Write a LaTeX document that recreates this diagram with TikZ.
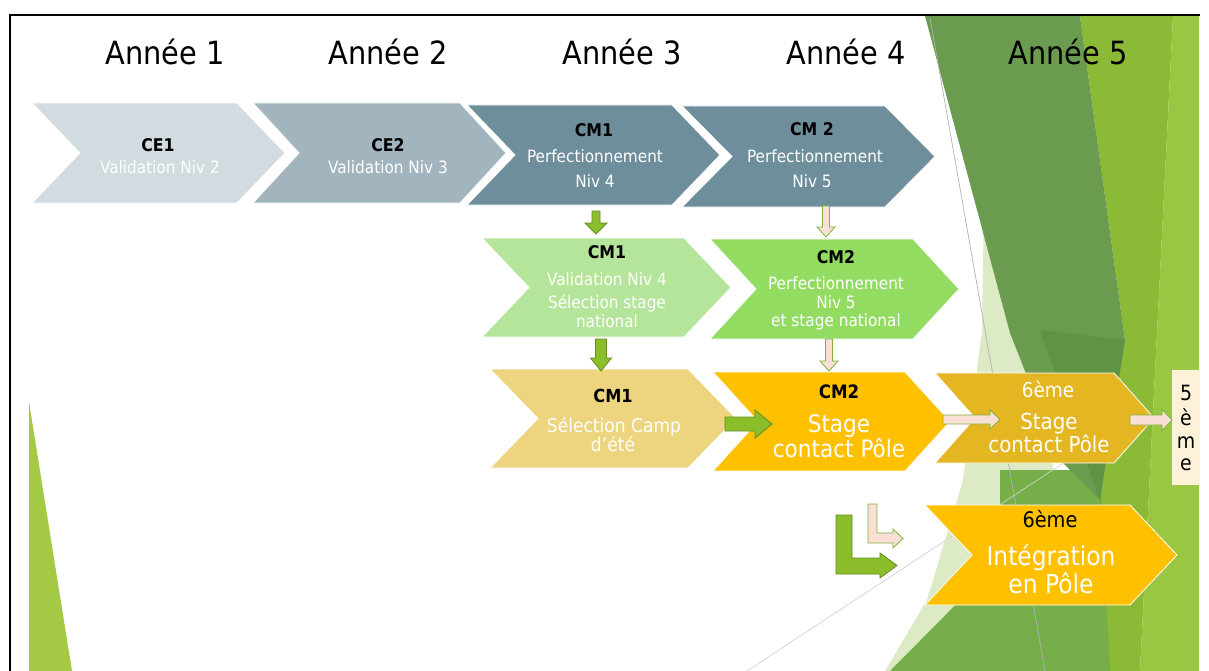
\documentclass[tikz,border=0pt]{standalone}
\usepackage{fontspec}
\setmainfont{DejaVuSansCondensed}[Extension=.ttf,BoldFont=DejaVuSansCondensed-Bold]
\definecolor{ceone}{HTML}{D1DBE0}
\definecolor{cetwo}{HTML}{A2B5BF}
\definecolor{slate}{HTML}{6F8E9C}
\definecolor{lgreen}{HTML}{B5E59A}
\definecolor{mgreen}{HTML}{93DC62}
\definecolor{tan}{HTML}{EDD47F}
\definecolor{gold}{HTML}{FFC000}
\definecolor{dgold}{HTML}{E4B621}
\definecolor{arrgreen}{HTML}{8CBE2C}
\definecolor{arrgreendark}{HTML}{5F8F22}
\definecolor{arrpink}{HTML}{FADFD4}
\definecolor{arrpinkedge}{HTML}{80B23C}
\definecolor{cream}{HTML}{FDF1D8}
\definecolor{leftgreen}{HTML}{A3C945}
\definecolor{bgpale}{HTML}{DCEAC5}
\definecolor{bgmed}{HTML}{76AE49}
\definecolor{bgdark}{HTML}{6A9B4F}
\definecolor{bgdarker}{HTML}{5F9444}
\definecolor{bgyg}{HTML}{8BBA36}
\definecolor{bglight}{HTML}{99C742}
\tikzset{
 hdr/.style={font=\fontsize{32}{36}\selectfont,anchor=base,inner sep=0pt},
 ttl/.style={font=\bfseries\fontsize{17.5}{20}\selectfont,anchor=base,inner sep=0pt},
 bod/.style={font=\fontsize{17}{20}\selectfont,text=white,anchor=base,inner sep=0pt},
 ltr/.style={font=\fontsize{21}{22}\selectfont,anchor=base,inner sep=0pt},
 chev/.style={draw=white,line width=0.8pt},
 garr/.style={fill=arrgreen,draw=arrgreendark,line width=0.8pt},
 parr/.style={fill=arrpink,draw=arrpinkedge,line width=0.8pt},
}
\newcommand\chevbox[6]{\path[chev,fill=#6] (#1,#3) -- (#2,#3) -- ({#2+#5},{(#3+#4)/2}) -- (#2,#4) -- (#1,#4) -- ({#1+#5},{(#3+#4)/2}) -- cycle;}
\newcommand\dnarrow[7]{\path[#1] ({#2-#5},#3) -- ({#2+#5},#3) -- ({#2+#5},{#4-#7}) -- ({#2+#6},{#4-#7}) -- (#2,#4) -- ({#2-#6},{#4-#7}) -- ({#2-#5},{#4-#7}) -- cycle;}
\newcommand\rtarrow[7]{\path[#1] (#2,{#4-#5}) -- ({#3-#7},{#4-#5}) -- ({#3-#7},{#4-#6}) -- (#3,#4) -- ({#3-#7},{#4+#6}) -- ({#3-#7},{#4+#5}) -- (#2,{#4+#5}) -- cycle;}
\begin{document}
\begin{tikzpicture}[x=1pt,y=-1pt]
\useasboundingbox (0,0) rectangle (1209,671);
\fill[white] (0,0) rectangle (1209,671);
% background
\fill[bgpale] (985,140) -- (1060,500) -- (905,671) -- (885,671) -- (927,600) -- (963,480) -- (982,330) -- cycle;
\fill[bgyg] (1080,16) -- (1173,16) -- (1140,671) -- (1105,671) -- (1100,500) -- (1125,340) -- cycle;
\fill[bglight] (1173,16) -- (1199,16) -- (1199,671) -- (1140,671) -- cycle;
\fill[bgmed] (1000,470) -- (1100,470) -- (1110,671) -- (890,671) -- (1000,560) -- cycle;
\fill[bgdark] (925,16) -- (1080,16) -- (1125,340) -- (1100,500) -- (1060,460) -- (1010,333) -- cycle;
\fill[bgdarker] (1040,330) -- (1125,340) -- (1100,500) -- cycle;
\fill[leftgreen] (29,402) -- (72,671) -- (29,671) -- cycle;
\draw[gray!60,line width=0.7pt] (930,18) -- (1045,671);
\draw[gray!35,line width=0.7pt] (747,671) -- (1080,452);
% border
\draw[line width=2pt] (10,671) -- (10,15) -- (1200,15);
% headers
\node[hdr] (a1) at (165,65) {Année 1};
\node[hdr] (a2) at (388,65) {Année 2};
\node[hdr] (a3) at (622,65) {Année 3};
\node[hdr] (a4) at (846,65) {Année 4};
\node[hdr] (a5) at (1068,65) {Année 5};
% row 1
\chevbox{32}{237}{103}{203}{48}{ceone}
\chevbox{253}{460}{103}{203}{46}{cetwo}
\chevbox{467}{672}{105}{205}{48}{slate}
\chevbox{682}{885}{106}{207}{50}{slate}
\node[ttl] (ce1t) at (158,152) {CE1};
\node[bod] (ce1a) at (160,174) {Validation Niv 2};
\node[ttl] (ce2t) at (388,152) {CE2};
\node[bod] (ce2a) at (388,174) {Validation Niv 3};
\node[ttl] (cm1t) at (594,137) {CM1};
\node[bod] (cm1a) at (595,163) {Perfectionnement};
\node[bod] (cm1b) at (595,188) {Niv 4};
\node[ttl] (cm2t) at (812,136) {CM 2};
\node[bod] (cm2a) at (815,163) {Perfectionnement};
\node[bod] (cm2b) at (812,188) {Niv 5};
% row 2
\chevbox{482}{684}{238}{337}{47}{lgreen}
\chevbox{710}{913}{239}{339}{46}{mgreen}
\node[ttl] (r2at) at (607,258) {CM1};
\node[bod] (r2a1) at (607,285) {Validation Niv 4};
\node[bod] (r2a2) at (607,308) {Sélection stage};
\node[bod] (r2a3) at (607,327) {national};
\node[ttl] (r2bt) at (836,263) {CM2};
\node[bod] (r2b1) at (836,289) {Perfectionnement};
\node[bod] (r2b2) at (836,308) {Niv 5};
\node[bod] (r2b3) at (836,326) {et stage national};
% row 3
\chevbox{490}{688}{369}{468}{48}{tan}
\chevbox{713}{905}{372}{471}{45}{gold}
\chevbox{935}{1114}{373}{463}{40}{dgold}
\node[ttl,font=\bfseries\fontsize{18}{20}\selectfont] (r3at) at (613,402) {CM1};
\node[bod,font=\fontsize{19}{22}\selectfont] (r3a1) at (614,432) {Sélection Camp};
\node[bod,font=\fontsize{19}{22}\selectfont] (r3a2) at (613,451) {d’été};
\node[ttl,font=\bfseries\fontsize{18.5}{20}\selectfont] (r3bt) at (839,398) {CM2};
\node[bod,font=\fontsize{24}{26}\selectfont] (r3b1) at (839,432) {Stage};
\node[bod,font=\fontsize{24}{26}\selectfont] (r3b2) at (839,457) {contact Pôle};
\node[bod,font=\fontsize{20.5}{24}\selectfont] (r3c0) at (1048,397) {6ème};
\node[bod,font=\fontsize{22}{24}\selectfont] (r3c1) at (1049,429) {Stage};
\node[bod,font=\fontsize{22}{24}\selectfont] (r3c2) at (1049,452) {contact Pôle};
% row 4
\chevbox{925}{1130}{505}{605}{47}{gold}
\node[anchor=base,inner sep=0pt,font=\fontsize{21.5}{24}\selectfont] (r4t) at (1050,527) {6ème};
\node[bod,font=\fontsize{26}{30}\selectfont] (r4a) at (1051,565) {Intégration};
\node[bod,font=\fontsize{26}{30}\selectfont] (r4b) at (1051,593) {en Pôle};
% 5eme box
\fill[cream] (1172,370) rectangle (1200,485);
\node[ltr] (c1) at (1186,400) {5};
\node[ltr] (c2) at (1186,425) {è};
\node[ltr] (c3) at (1186,448) {m};
\node[ltr] (c4) at (1186,470) {e};
% arrows
\dnarrow{garr}{596}{211}{234}{4}{11}{11}
\dnarrow{parr}{826}{206}{237}{3.5}{9}{10}
\dnarrow{garr}{601}{339}{371}{5.5}{10.5}{13}
\dnarrow{parr}{829}{339}{371}{3.5}{9}{10}
\rtarrow{garr}{725}{772}{424}{7}{14}{17}
\rtarrow{parr}{943}{1000}{419.5}{4.5}{9.5}{10}
\rtarrow{parr}{1130}{1172}{420}{5}{10.5}{10}
\path[garr] (836,515) -- (852,515) -- (852,558) -- (880,558) -- (880,553) -- (897,565.5) -- (880,578) -- (880,574) -- (836,574) -- cycle;
\path[parr] (868,504) -- (877,504) -- (877,533) -- (893,533) -- (893,529) -- (903,538.5) -- (893,548) -- (893,543) -- (868,543) -- cycle;
\end{tikzpicture}
\end{document}
